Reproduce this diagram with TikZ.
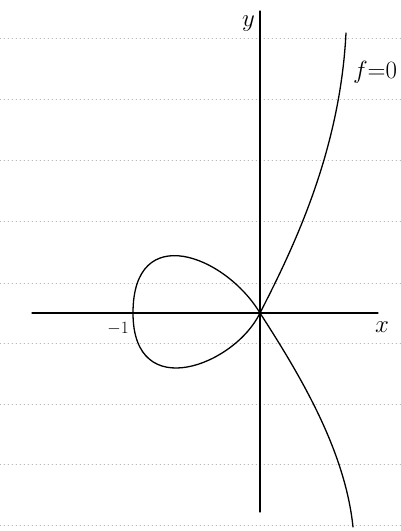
\documentclass[tikz,border=0pt]{standalone}
\usetikzlibrary{positioning}
\begin{document}
\begin{tikzpicture}[x=1pt,y=-1pt,line cap=round,line join=round]
    \tikzset{ruled/.style={gray!55,line width=0.7pt,dash pattern=on 0.8pt off 3.2pt},
             axis/.style={line width=1.1pt},
             curve/.style={line width=1.3pt},
             lbl/.style={inner sep=0pt,font=\fontsize{24}{26}\selectfont}}
    \useasboundingbox (0,0) rectangle (401,531);

    % ruled paper
    \foreach \y in {38,99,160,221,283,343,404,464,525}
        \draw[ruled] (0,\y) -- (401,\y);

    % axes
    \coordinate (O) at (260,313);
    \coordinate (xl) at (32,313);
    \coordinate (xr) at (378,313);
    \coordinate (yt) at (260,11);
    \coordinate (yb) at (260,512);
    \coordinate (A) at (133,313);
    \coordinate (top) at (346,33);
    \coordinate (bot) at (353,527);
    \draw[axis] (xl) -- (xr);
    \draw[axis] (yb) -- (yt);

    \node[lbl] (xlab) at (382,327) {$x$};
    \node[lbl,below left=5pt and 5pt of yt] (ylab) {$y$};
    \node[lbl,font=\fontsize{17}{19}\selectfont] (m1) at (118,329) {$-1$};
    \node[lbl,font=\fontsize{27}{30}\selectfont] (f0) at (375,72) {$f{=}0$};

    % the nodal cubic
    \draw[curve] (top) .. controls (340,150) and (295,245) .. (O)
                       .. controls (235,365) and (133,405) .. (A)
                       .. controls (133,220) and (225,255) .. (O)
                       .. controls (300,375) and (345,450) .. (bot);
\end{tikzpicture}
\end{document}
